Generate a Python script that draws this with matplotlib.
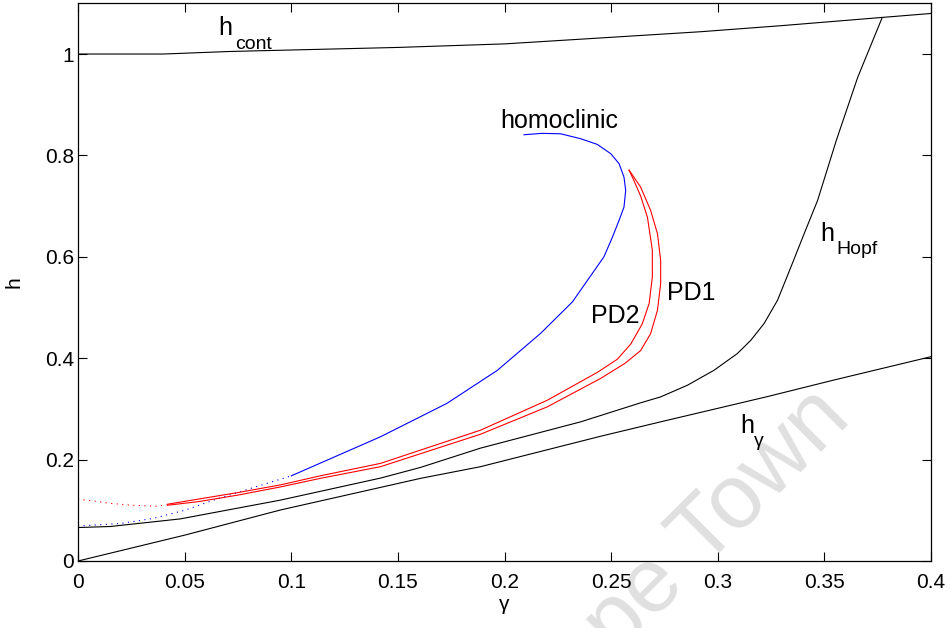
import numpy as np
import matplotlib
matplotlib.use('Agg')
import matplotlib.pyplot as plt

plt.rcParams['font.family'] = ['Liberation Sans', 'DejaVu Sans']

# curves (gamma, h)
cont_g = [0, 0.04, 0.071, 0.15, 0.2, 0.25, 0.292, 0.33, 0.3765, 0.4]
cont_h = [1.0, 1.0, 1.005, 1.013, 1.02, 1.033, 1.044, 1.056, 1.072, 1.08]

hopf_g = [0, 0.015, 0.0479, 0.0948, 0.1418, 0.1606, 0.1887, 0.2357, 0.2638, 0.2732,
          0.2858, 0.2983, 0.3092, 0.3155, 0.3217, 0.328, 0.3343, 0.3405, 0.3468,
          0.3556, 0.3656, 0.377]
hopf_h = [0.066, 0.068, 0.083, 0.12, 0.1635, 0.1846, 0.2226, 0.2745, 0.312, 0.3237,
          0.3468, 0.3764, 0.4093, 0.4355, 0.4684, 0.5143, 0.58, 0.6457, 0.7113,
          0.83, 0.954, 1.071]

gam_g = [0, 0.05, 0.0948, 0.1606, 0.1887, 0.245, 0.2732, 0.323, 0.3545, 0.4]
gam_h = [0, 0.051, 0.1005, 0.163, 0.186, 0.246, 0.2745, 0.324, 0.357, 0.403]

homo_g = [0.1, 0.1418, 0.173, 0.1966, 0.2169, 0.2318, 0.2466, 0.2506, 0.2537,
          0.256, 0.2568, 0.256, 0.2537, 0.2498, 0.2435, 0.2357, 0.2263, 0.2175, 0.2091]
homo_h = [0.168, 0.245, 0.311, 0.376, 0.449, 0.511, 0.600, 0.639, 0.672,
          0.698, 0.731, 0.7572, 0.7837, 0.8034, 0.8217, 0.8329, 0.8427, 0.8435, 0.8408]
homo_dot_g = [0, 0.02, 0.0352, 0.05, 0.0635, 0.08, 0.1]
homo_dot_h = [0.069, 0.074, 0.084, 0.1, 0.12, 0.142, 0.168]

pd2_g = [0.042, 0.0563, 0.075, 0.0948, 0.1136, 0.1418, 0.1887, 0.22, 0.2435,
         0.2529, 0.2592, 0.2646, 0.2678, 0.2693, 0.2693, 0.267, 0.2638, 0.2605, 0.2584]
pd2_h = [0.112, 0.122, 0.135, 0.150, 0.168, 0.1925, 0.258, 0.317, 0.372,
         0.398, 0.428, 0.468, 0.508, 0.56, 0.613, 0.678, 0.72, 0.752, 0.771]
pd1_g = [0.042, 0.0563, 0.075, 0.0948, 0.1136, 0.1418, 0.1887, 0.22, 0.245,
         0.2565, 0.2638, 0.2685, 0.2717, 0.2732, 0.2732, 0.2717, 0.2685, 0.2638, 0.2584]
pd1_h = [0.110, 0.117, 0.130, 0.146, 0.163, 0.186, 0.250, 0.304, 0.36,
         0.39, 0.415, 0.4486, 0.4946, 0.547, 0.593, 0.6457, 0.6916, 0.7376, 0.771]
pd_dot_g = [0, 0.008, 0.015, 0.025, 0.0369, 0.042]
pd_dot_h = [0.122, 0.118, 0.1137, 0.11, 0.108, 0.111]

xticks = [0, 0.05, 0.1, 0.15, 0.2, 0.25, 0.3, 0.35, 0.4]
xlabels = ['0', '0.05', '0.1', '0.15', '0.2', '0.25', '0.3', '0.35', '0.4']
yticks = [0, 0.2, 0.4, 0.6, 0.8, 1.0]
ylabels = ['0', '0.2', '0.4', '0.6', '0.8', '1']

fig = plt.figure(figsize=(9.52, 6.28), dpi=100)
ax = fig.add_axes([0.082, 0.1067, 0.896, 0.888])
ax.set_facecolor('none')

lw = 0.8
ax.plot(cont_g, cont_h, color='k', lw=lw)
ax.plot(hopf_g, hopf_h, color='k', lw=lw)
ax.plot(gam_g, gam_h, color='k', lw=lw)
ax.plot(homo_g, homo_h, color='b', lw=lw)
ax.plot(homo_dot_g, homo_dot_h, color='b', lw=lw, ls=(0, (1, 4)))
ax.plot(pd1_g, pd1_h, color='r', lw=lw)
ax.plot(pd2_g, pd2_h, color='r', lw=lw)
ax.plot(pd_dot_g, pd_dot_h, color='r', lw=lw, ls=(0, (1, 4)))

ax.set_xlim(0, 0.4)
ax.set_ylim(0, 1.1)
ax.set_xticks(xticks)
ax.set_xticklabels(xlabels)
ax.set_yticks(yticks)
ax.set_yticklabels(ylabels)
ax.tick_params(direction='in', top=True, right=True, length=6.5, width=0.8,
               labelsize=15)
ax.tick_params(axis='x', pad=9)
ax.tick_params(axis='y', pad=3)
for sp in ax.spines.values():
    sp.set_linewidth(0.9)

ax.set_xlabel('γ', fontsize=15, labelpad=2)
ax.set_ylabel('h', fontsize=15, labelpad=15)

fs = 18
def hlabel(x, y, sub, dx, dy):
    ax.text(x, y, 'h', fontsize=fs)
    ax.annotate(sub, (x, y), xytext=(dx, dy), textcoords='offset points',
                fontsize=14)

hlabel(0.0657, 1.038, 'cont', 12, -10)
hlabel(0.348, 0.631, 'Hopf', 11.5, -9.6)
hlabel(0.3105, 0.2516, 'γ', 10, -9)
ax.text(0.198, 0.854, 'homoclinic', fontsize=fs)
ax.text(0.2404, 0.47, 'PD2', fontsize=fs)
ax.text(0.276, 0.514, 'PD1', fontsize=fs)

# faint watermark running off the bottom edge
fig.text(852.9 / 952, 207.5 / 628, 'Cape Town', rotation=45,
         ha='right', va='baseline', rotation_mode='anchor', fontsize=65,
         color='#e0e0e0', zorder=-1)

fig.savefig('out.png', dpi=100)
